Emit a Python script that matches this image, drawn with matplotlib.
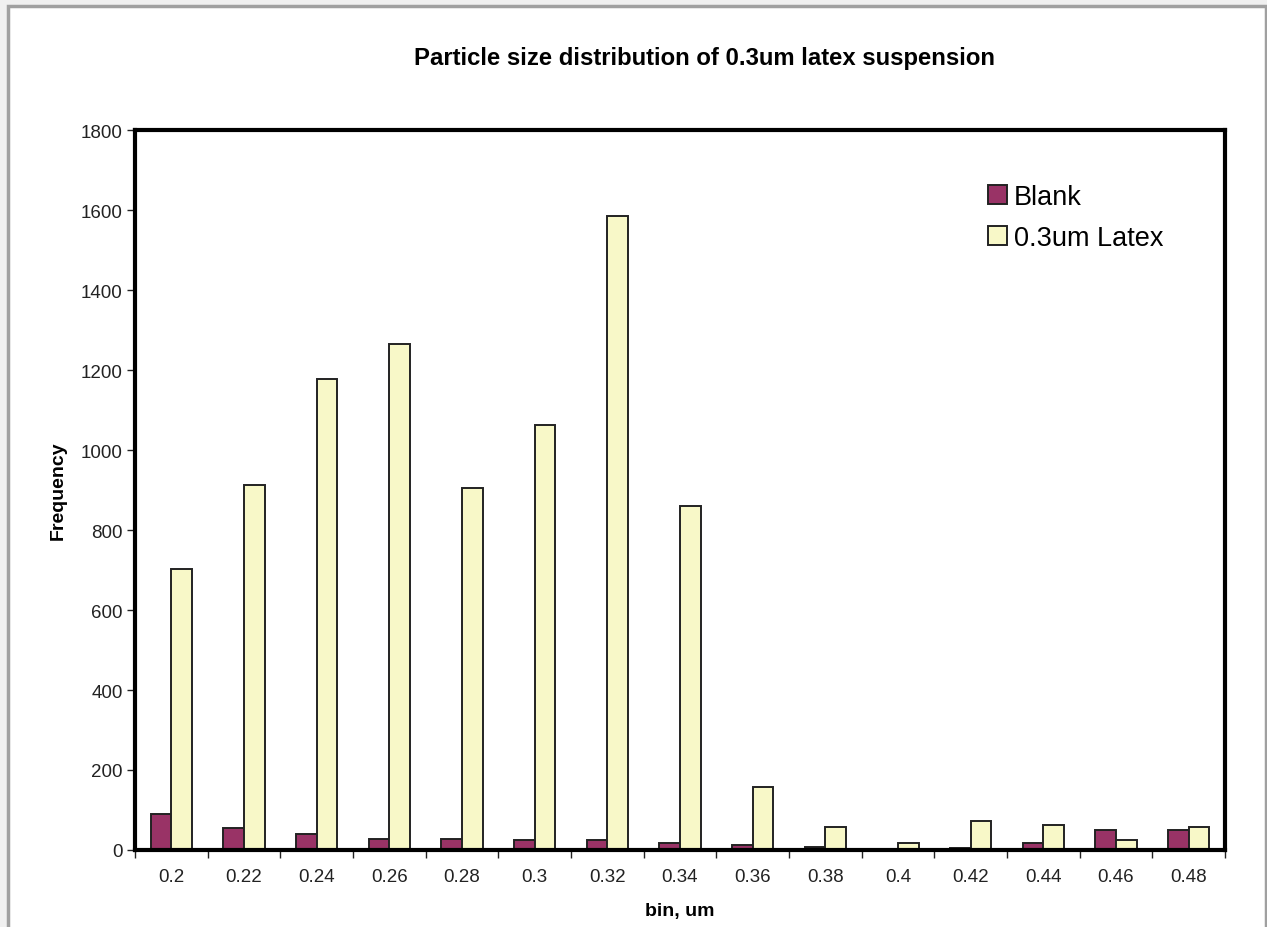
import matplotlib.pyplot as plt
import matplotlib.patches as mpatches
import numpy as np

plt.rcParams["font.family"] = ["Liberation Sans", "DejaVu Sans"]

bins = ["0.2", "0.22", "0.24", "0.26", "0.28", "0.3", "0.32", "0.34",
        "0.36", "0.38", "0.4", "0.42", "0.44", "0.46", "0.48"]
blank = [90, 55, 40, 28, 28, 25, 25, 17, 12, 8, 0, 5, 17, 50, 50]
latex = [702, 912, 1177, 1265, 905, 1062, 1585, 860, 158, 58, 17, 73, 62, 24, 58]

fig = plt.figure(figsize=(12.67, 9.28), dpi=100)
fig.patch.set_facecolor("white")

# light frame around the chart
fig.add_artist(mpatches.Rectangle((0, 0), 1, 1, transform=fig.transFigure,
                                  facecolor="#f0f0f0", edgecolor="none", zorder=-3))
fig.add_artist(mpatches.Rectangle((7.5 / 1267, -0.01), (1266 - 7.5) / 1267, 1 - 7 / 928 + 0.01,
                                  transform=fig.transFigure, facecolor="white",
                                  edgecolor="#a0a0a0", linewidth=2.5, zorder=-2))

ax = fig.add_axes([135 / 1267, 1 - 851 / 928, (1225 - 135) / 1267, (851 - 131) / 928])

x = np.arange(len(bins))
w = 0.2857
ax.bar(x - w / 2, blank, w, color="#993366", edgecolor="#222222", linewidth=1.4, label="Blank")
ax.bar(x + w / 2, latex, w, color="#F8F8C8", edgecolor="#222222", linewidth=1.4, label="0.3um Latex")

ax.set_xlim(-0.5, len(bins) - 0.5)
ax.set_ylim(0, 1800)
ax.set_yticks(range(0, 1801, 200))
ax.set_xticks(x)
ax.set_xticklabels(bins)
ax.set_xticks(np.arange(-0.5, len(bins), 1), minor=True)
ax.tick_params(axis="x", which="major", length=0, pad=13, labelsize=13.5, colors="#222222")
ax.tick_params(axis="x", which="minor", length=6, width=1, direction="out", color="#222222")
ax.tick_params(axis="y", length=6, width=1, direction="out", labelsize=13.5, colors="#222222", pad=3)

for s in ax.spines.values():
    s.set_linewidth(3)
    s.set_color("black")

ax.set_xlabel("bin, um", fontsize=14, fontweight="bold", labelpad=12)
ax.set_ylabel("Frequency", fontsize=14, fontweight="bold", labelpad=10)
fig.text(705 / 1267, 1 - 58 / 928, "Particle size distribution of 0.3um latex suspension",
         ha="center", va="center", fontsize=17.2, fontweight="bold")

ax.legend(loc="upper left", bbox_to_anchor=(0.7725, 0.94), frameon=False, fontsize=19.5,
          handlelength=0.7, handleheight=0.7, handletextpad=0.25, labelspacing=0.55,
          borderaxespad=0)

fig.savefig("out.png", dpi=100)
